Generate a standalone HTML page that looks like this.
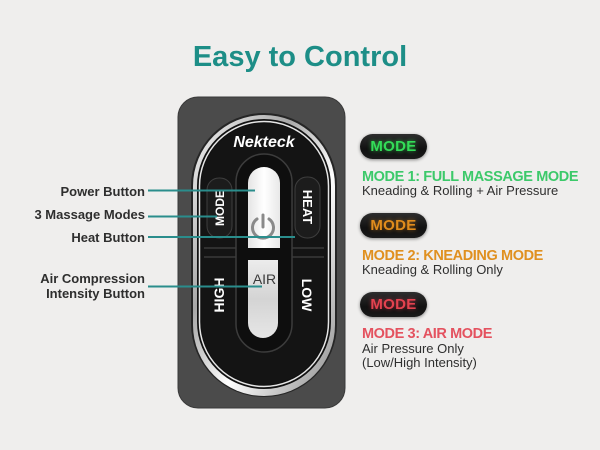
<!DOCTYPE html>
<html><head><meta charset="utf-8"><style>
html,body{margin:0;padding:0;}
body{width:600px;height:450px;background:#efeeed;position:relative;overflow:hidden;font-family:"Liberation Sans",sans-serif;}
.t{position:absolute;white-space:nowrap;}
.title{left:0;width:600px;top:40px;text-align:center;font-size:29px;line-height:34px;font-weight:bold;color:#1d8e87;}
.lab{font-size:13px;line-height:15px;font-weight:bold;color:#2e2e2e;right:455px;text-align:right;}
.badge{position:absolute;left:360px;width:67px;height:25px;border-radius:13px;background:linear-gradient(#2e2e2e,#111 60%,#1a1a1a);box-shadow:0 1px 3px rgba(0,0,0,.45);text-align:center;font-weight:bold;font-size:15px;line-height:25px;letter-spacing:.3px;}
.h{left:362px;font-size:14.5px;line-height:17px;font-weight:bold;letter-spacing:-0.4px;}
.s{left:362px;font-size:13px;line-height:14px;color:#2f2f2f;}
</style></head><body>
<div class="t title">Easy to Control</div>

<svg width="600" height="450" style="position:absolute;left:0;top:0">
<defs>
<linearGradient id="chrome" x1="0" y1="0" x2="1" y2="1">
<stop offset="0" stop-color="#f4f4f4"/><stop offset=".35" stop-color="#a8a8a8"/><stop offset=".6" stop-color="#ffffff"/><stop offset="1" stop-color="#8a8a8a"/>
</linearGradient>
<linearGradient id="w1" x1="0" y1="0" x2="1" y2="0">
<stop offset="0" stop-color="#e4e4e4"/><stop offset=".5" stop-color="#ffffff"/><stop offset="1" stop-color="#e8e8e8"/>
</linearGradient>
<linearGradient id="w2" x1="0" y1="0" x2="0" y2="1">
<stop offset="0" stop-color="#ececec"/><stop offset=".5" stop-color="#d4d4d4"/><stop offset="1" stop-color="#e6e6e6"/>
</linearGradient>
</defs>
<rect x="178" y="97" width="167" height="311" rx="20" fill="#4b4b4b" stroke="#3a3a3a"/>
<rect x="191" y="113" width="146" height="284" rx="73" fill="#262626"/>
<rect x="193" y="115" width="142" height="281" rx="71" fill="url(#chrome)"/>
<rect x="197" y="119" width="134" height="270" rx="67" fill="#111"/>
<rect x="199.5" y="121.5" width="129" height="265" rx="64.5" fill="none" stroke="#e6e6e6" stroke-width="1.5"/>
<rect x="201.5" y="123.5" width="125" height="261" rx="62.5" fill="#141414"/>
<text x="264" y="147" text-anchor="middle" font-family="Liberation Sans" font-size="16" font-weight="bold" font-style="italic" fill="#fff">Nekteck</text>
<line x1="204" y1="248" x2="324" y2="248" stroke="#3a3a3a" stroke-width="1.5"/>
<line x1="204" y1="257" x2="324" y2="257" stroke="#3a3a3a" stroke-width="1.5"/>
<rect x="236" y="154" width="56" height="198" rx="28" fill="#0e0e0e" stroke="#3c3c3c" stroke-width="1.5"/>
<path d="M248,248 V183 A16,16 0 0 1 280,183 V248 Z" fill="url(#w1)"/>
<path d="M248,260 H278 V323 A15,15 0 0 1 248,323 Z" fill="url(#w2)"/>
<path d="M257,219 A10.5,10.5 0 1 0 269,219" fill="none" stroke="#8a8a8a" stroke-width="3" stroke-linecap="round"/>
<line x1="263" y1="215" x2="263" y2="227" stroke="#8a8a8a" stroke-width="3" stroke-linecap="round"/>
<text x="264.5" y="284" text-anchor="middle" font-family="Liberation Sans" font-size="14" fill="#3a3a3a">AIR</text>
<rect x="207" y="178" width="25" height="60" rx="12" fill="#1c1c1c" stroke="#3e3e3e"/>
<rect x="295" y="177" width="25" height="61" rx="12" fill="#1c1c1c" stroke="#3e3e3e"/>
<text transform="translate(224,208) rotate(-90)" text-anchor="middle" font-family="Liberation Sans" font-size="12" font-weight="bold" fill="#fff">MODE</text>
<text transform="translate(303,207) rotate(90)" text-anchor="middle" font-family="Liberation Sans" font-size="13" font-weight="bold" fill="#fff">HEAT</text>
<text transform="translate(224,295) rotate(-90)" text-anchor="middle" font-family="Liberation Sans" font-size="14" font-weight="bold" fill="#fff">HIGH</text>
<text transform="translate(302,295) rotate(90)" text-anchor="middle" font-family="Liberation Sans" font-size="14" font-weight="bold" fill="#fff">LOW</text>
<g stroke="#2a8d8c" stroke-width="2">
<line x1="148" y1="190.5" x2="255" y2="190.5"/>
<line x1="148" y1="216.5" x2="217" y2="216.5"/>
<line x1="148" y1="237" x2="295" y2="237"/>
<line x1="148" y1="286.5" x2="262" y2="286.5"/>
</g>
</svg>

<div class="t lab" style="top:184px">Power Button</div>
<div class="t lab" style="top:207px">3 Massage Modes</div>
<div class="t lab" style="top:230px">Heat Button</div>
<div class="t lab" style="top:271px">Air Compression<br>Intensity Button</div>

<div class="badge" style="top:134px;color:#33dd58;text-shadow:0 0 4px rgba(60,230,90,.7)">MODE</div>
<div class="t h" style="top:169px;color:#3cc96a">MODE 1: FULL MASSAGE MODE</div>
<div class="t s" style="top:184px">Kneading &amp; Rolling + Air Pressure</div>

<div class="badge" style="top:213px;color:#e08c1c;text-shadow:0 0 4px rgba(230,140,30,.6)">MODE</div>
<div class="t h" style="top:248px;color:#e0901f">MODE 2: KNEADING MODE</div>
<div class="t s" style="top:263px">Kneading &amp; Rolling Only</div>

<div class="badge" style="top:292px;color:#e4424f;text-shadow:0 0 4px rgba(230,60,80,.6)">MODE</div>
<div class="t h" style="top:326px;color:#e4525f">MODE 3: AIR MODE</div>
<div class="t s" style="top:342px">Air Pressure Only</div>
<div class="t s" style="top:356px">(Low/High Intensity)</div>
</body></html>
